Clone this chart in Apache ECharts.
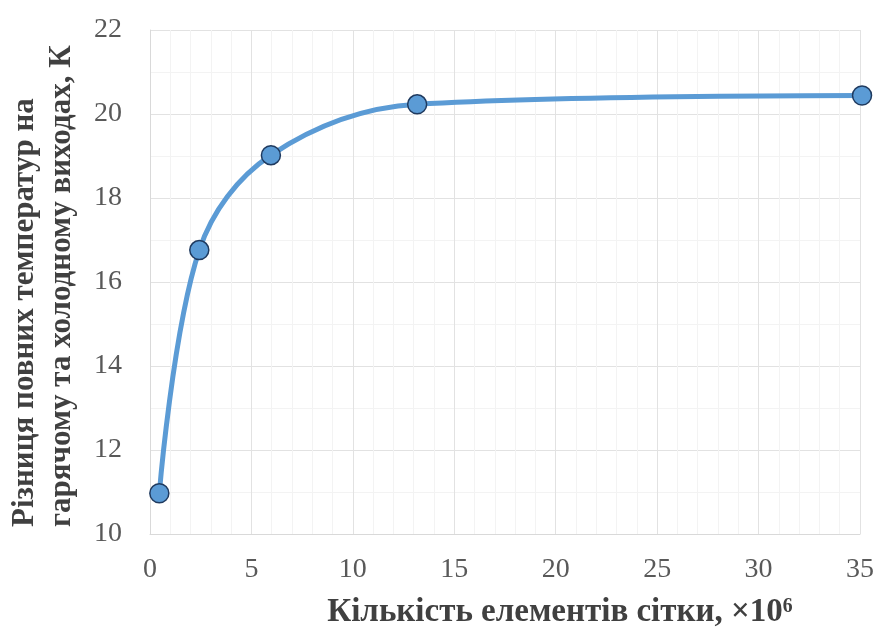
<!DOCTYPE html>
<html><head><meta charset="utf-8">
<script src="https://cdn.jsdelivr.net/npm/echarts@6/dist/echarts.min.js"></script>
<style>html,body{margin:0;padding:0;background:#fff}#c{width:891px;height:630px}</style>
</head><body><div id="c"></div>
<script>
const meshCounts = [0.46, 2.43, 5.96, 13.17, 35.1];
const tempDiff = [10.97, 16.76, 19.02, 20.23, 20.44];
const xTitle = 'Кількість елементів сітки, ×10⁶';
const yTitle = 'Різниця повних температур на\nгарячому та холодному виходах, К';

const chart = echarts.init(document.getElementById('c'), null, {renderer: 'canvas'});
const serif = '"Liberation Serif", "DejaVu Serif", serif';
chart.setOption({
  animation: false,
  grid: {left: 150, right: 31, top: 30, bottom: 96, containLabel: false, outerBoundsMode: 'none'},
  xAxis: {
    type: 'value', min: 0, max: 35, interval: 5,
    name: xTitle, nameLocation: 'middle', nameGap: 62,
    nameTextStyle: {fontFamily: serif, fontSize: 33, fontWeight: 'bold', color: '#404040', padding: [0, 0, 0, 110]},
    axisLine: {show: true, lineStyle: {color: '#d9d9d9'}},
    axisTick: {show: false},
    axisLabel: {fontFamily: serif, fontSize: 28, color: '#595959', margin: 22},
    splitLine: {show: true, lineStyle: {color: '#e2e2e2', width: 1}},
    minorTick: {show: false, splitNumber: 5},
    minorSplitLine: {show: true, lineStyle: {color: '#f3f3f3', width: 1}}
  },
  yAxis: {
    type: 'value', min: 10, max: 22, interval: 2,
    axisLine: {show: true, lineStyle: {color: '#d9d9d9'}},
    axisTick: {show: false},
    axisLabel: {fontFamily: serif, fontSize: 28, color: '#595959', margin: 28},
    splitLine: {show: true, lineStyle: {color: '#e2e2e2', width: 1}},
    minorTick: {show: false, splitNumber: 2},
    minorSplitLine: {show: true, lineStyle: {color: '#f3f3f3', width: 1}}
  },
  graphic: [{
    type: 'text',
    x: 43, y: 527,
    rotation: Math.PI / 2,
    style: {
      text: yTitle,
      fontFamily: serif, fontSize: 31, fontWeight: 'bold',
      fill: '#404040', lineHeight: 37,
      align: 'left', verticalAlign: 'middle'
    }
  }],
  series: [{
    type: 'line',
    data: meshCounts.map((x, i) => [x, tempDiff[i]]),
    smooth: 0.35,
    clip: false,
    lineStyle: {color: '#5b9bd5', width: 5},
    symbol: 'circle', symbolSize: 19,
    itemStyle: {color: '#5b9bd5', borderColor: '#1f3a5f', borderWidth: 1.5}
  }]
});
</script></body></html>
